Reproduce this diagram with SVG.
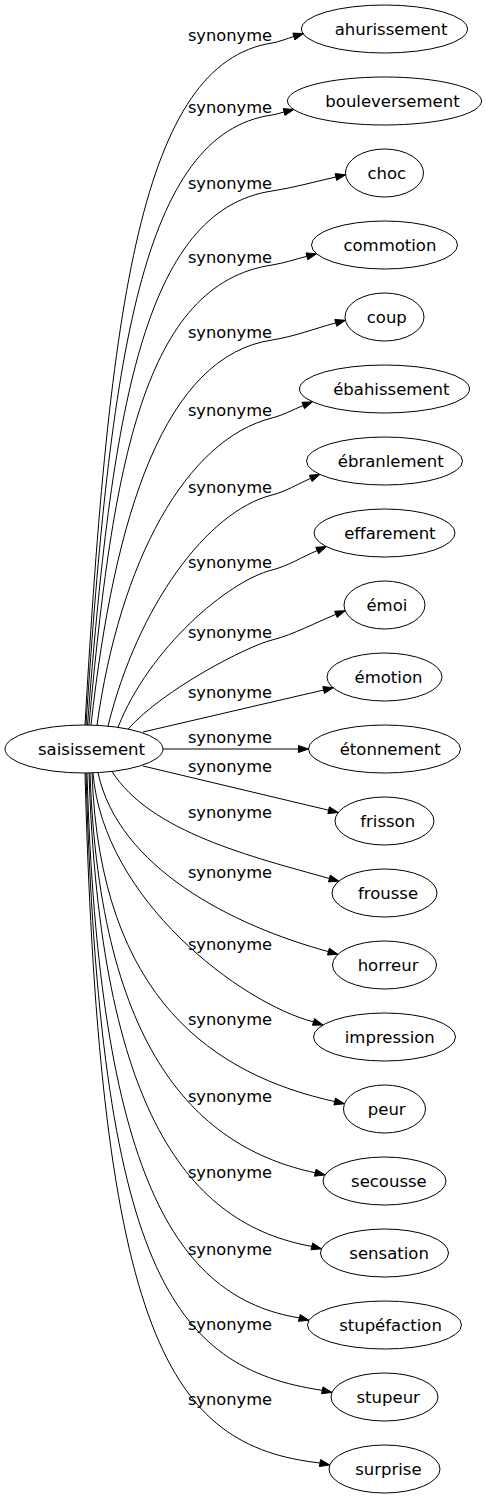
<svg xmlns="http://www.w3.org/2000/svg" width="486" height="1499" viewBox="0 0 486 1499">
<style>
.node ellipse{fill:none;stroke:#000;stroke-width:1}
.node text{font-family:"DejaVu Sans",sans-serif;font-size:16.5px;fill:#000;text-anchor:middle}
#edges path{fill:none;stroke:#000;stroke-width:1}
#edges polygon{fill:#000;stroke:#000;stroke-width:1}
.lbl{font-family:"DejaVu Sans",sans-serif;font-size:16.3px;fill:#000;text-anchor:middle}
</style>
<rect width="486" height="1499" fill="#fff"/>
<g id="edges">
<path d="M85,725 C109.3,302.2 141.1,63.5 272,43 C279.5,41.8 286.6,38.7 293.9,36.5"/><polygon points="294.9,39.9 303.5,33.6 292.9,33.1"/>
<path d="M86,725 C110.2,357.2 141.8,133.3 272,115 C276.2,114.4 280,113 284.1,112"/><polygon points="284.95,115.4 293.8,109.6 283.25,108.6"/>
<path d="M87.5,725 C111.5,412.6 142.8,210.4 272,191 C293.6,187.8 314.5,181.7 335.8,177"/><polygon points="336.6,180.4 345.6,174.8 335.1,173.6"/>
<path d="M89,725 C112.8,463.7 143.9,284.2 272,265 C283.9,263.2 295.3,259.2 306.9,256.3"/><polygon points="307.75,259.7 316.6,253.85 306.05,252.9"/>
<path d="M91,725 C114.5,513.2 164.8,356.1 272,340 C293.8,336.7 314.5,328.6 335.75,322.9"/><polygon points="336.7,326.3 345.4,320.3 334.8,319.5"/>
<path d="M97,725.3 C119.75,561.2 186,439.5 272,418 C282.9,415.3 292.8,409.7 303.2,405.5"/><polygon points="304.5,408.7 312.5,401.8 301.9,402.3"/>
<path d="M108,726.1 C137.5,606.4 207.3,511.2 272,495 C285.6,491.6 297.8,483.9 310.7,478.4"/><polygon points="312.1,481.6 319.9,474.4 309.3,475.2"/>
<path d="M118,727.3 C148.8,648.6 228,581 272,570 C287.9,566 302.1,557 317.2,550.55"/><polygon points="318.6,553.8 326.4,546.6 315.8,547.3"/>
<path d="M128,729.1 C164,689 247,646.25 272,640 C294.2,634.4 314.7,622.9 335.9,614.4"/><polygon points="337.2,617.6 345.2,610.7 334.6,611.2"/>
<path d="M143,732 L323.6,690"/><polygon points="324.4,693.4 333.3,687.7 322.8,686.6"/>
<path d="M163,749 L298.5,749"/><polygon points="298.5,752.5 308.5,749 298.5,745.5"/>
<path d="M143,766 L328.6,810.2"/><polygon points="327.8,813.6 338.3,812.5 329.4,806.8"/>
<path d="M112,771.4 C150,832 252.4,856.9 329.4,878.5"/><polygon points="328.45,881.9 339,881.2 330.35,875.1"/>
<path d="M98,772.6 C118.3,867.6 232.4,925.6 328.4,951.6"/><polygon points="327.5,955 338,954.3 329.35,948.2"/>
<path d="M93,773 C103.5,900 241,1003 313.5,1021.9"/><polygon points="312.4,1025.2 323,1025 314.6,1018.6"/>
<path d="M92,773 C100,1000 215,1075 334.7,1101.55"/><polygon points="333.95,1104.95 344.5,1103.7 335.45,1098.1"/>
<path d="M90,773 C100.1,1052.3 198.2,1148 315.2,1172.75"/><polygon points="314.5,1176.2 325,1174.9 316,1169.3"/>
<path d="M89,773 C100.1,1113.8 189.3,1224.4 311.8,1246.4"/><polygon points="311,1249.8 321.5,1248.8 312.65,1243"/>
<path d="M87,773 C98.7,1176.2 176.2,1297.9 299.3,1317.9"/><polygon points="298.45,1321.3 309,1320.3 300.15,1314.5"/>
<path d="M86,773 C100.2,1266.8 171,1368 322.2,1390.3"/><polygon points="321.5,1393.7 332,1392.4 323,1386.9"/>
<path d="M85,773 C100,1340 170,1446 320,1463"/><polygon points="319.3,1466.5 329.8,1465 320.7,1459.6"/>
<text class="lbl" x="230" y="41">synonyme</text>
<text class="lbl" x="230" y="113">synonyme</text>
<text class="lbl" x="230" y="189">synonyme</text>
<text class="lbl" x="230" y="263">synonyme</text>
<text class="lbl" x="230" y="338">synonyme</text>
<text class="lbl" x="230" y="416">synonyme</text>
<text class="lbl" x="230" y="493">synonyme</text>
<text class="lbl" x="230" y="568">synonyme</text>
<text class="lbl" x="230" y="638">synonyme</text>
<text class="lbl" x="230" y="698">synonyme</text>
<text class="lbl" x="230" y="743">synonyme</text>
<text class="lbl" x="230" y="772">synonyme</text>
<text class="lbl" x="230" y="818">synonyme</text>
<text class="lbl" x="230" y="878">synonyme</text>
<text class="lbl" x="230" y="950">synonyme</text>
<text class="lbl" x="230" y="1025">synonyme</text>
<text class="lbl" x="230" y="1102">synonyme</text>
<text class="lbl" x="230" y="1178">synonyme</text>
<text class="lbl" x="230" y="1255">synonyme</text>
<text class="lbl" x="230" y="1330">synonyme</text>
<text class="lbl" x="230" y="1405">synonyme</text>
</g>
<g id="saisissement" class="node"><ellipse cx="84" cy="749" rx="79" ry="24"/><text x="91.5" y="754.7">saisissement</text></g>
<g id="ahurissement" class="node"><ellipse cx="384.5" cy="29" rx="83" ry="24"/><text x="391.1" y="34.7">ahurissement</text></g>
<g id="bouleversement" class="node"><ellipse cx="384.5" cy="101" rx="97" ry="24"/><text x="392.5" y="106.7">bouleversement</text></g>
<g id="choc" class="node"><ellipse cx="384.5" cy="173" rx="39" ry="24"/><text x="386.8" y="178.7">choc</text></g>
<g id="commotion" class="node"><ellipse cx="384.5" cy="245" rx="73" ry="24"/><text x="389.9" y="250.7">commotion</text></g>
<g id="coup" class="node"><ellipse cx="384.5" cy="317" rx="39.5" ry="24"/><text x="386.8" y="322.7">coup</text></g>
<g id="ebahissement" class="node"><ellipse cx="384.5" cy="389" rx="85" ry="24"/><text x="391.3" y="394.7">ébahissement</text></g>
<g id="ebranlement" class="node"><ellipse cx="384.5" cy="461" rx="78" ry="24"/><text x="390.7" y="466.7">ébranlement</text></g>
<g id="effarement" class="node"><ellipse cx="384.5" cy="533" rx="70.5" ry="24"/><text x="389.9" y="538.7">effarement</text></g>
<g id="emoi" class="node"><ellipse cx="384.5" cy="605" rx="40.5" ry="24"/><text x="386.9" y="610.7">émoi</text></g>
<g id="emotion" class="node"><ellipse cx="384.5" cy="677" rx="57.5" ry="24"/><text x="388.5" y="682.7">émotion</text></g>
<g id="etonnement" class="node"><ellipse cx="384.5" cy="749" rx="76" ry="24"/><text x="390.2" y="754.7">étonnement</text></g>
<g id="frisson" class="node"><ellipse cx="384.5" cy="821" rx="49.5" ry="24"/><text x="387.7" y="826.7">frisson</text></g>
<g id="frousse" class="node"><ellipse cx="384.5" cy="893" rx="52.5" ry="24"/><text x="388" y="898.7">frousse</text></g>
<g id="horreur" class="node"><ellipse cx="384.5" cy="965" rx="52" ry="24"/><text x="388.1" y="970.7">horreur</text></g>
<g id="impression" class="node"><ellipse cx="384.5" cy="1037" rx="71" ry="24"/><text x="389.8" y="1042.7">impression</text></g>
<g id="peur" class="node"><ellipse cx="384.5" cy="1109" rx="41" ry="24"/><text x="386.7" y="1114.7">peur</text></g>
<g id="secousse" class="node"><ellipse cx="384.5" cy="1181" rx="61.5" ry="24"/><text x="388.9" y="1186.7">secousse</text></g>
<g id="sensation" class="node"><ellipse cx="384.5" cy="1253" rx="64" ry="24"/><text x="389.1" y="1258.7">sensation</text></g>
<g id="stupefaction" class="node"><ellipse cx="384.5" cy="1325" rx="77" ry="24"/><text x="390.5" y="1330.7">stupéfaction</text></g>
<g id="stupeur" class="node"><ellipse cx="384.5" cy="1397" rx="53.5" ry="24"/><text x="388.2" y="1402.7">stupeur</text></g>
<g id="surprise" class="node"><ellipse cx="384.5" cy="1469" rx="55.5" ry="24"/><text x="388.4" y="1474.7">surprise</text></g>
</svg>
